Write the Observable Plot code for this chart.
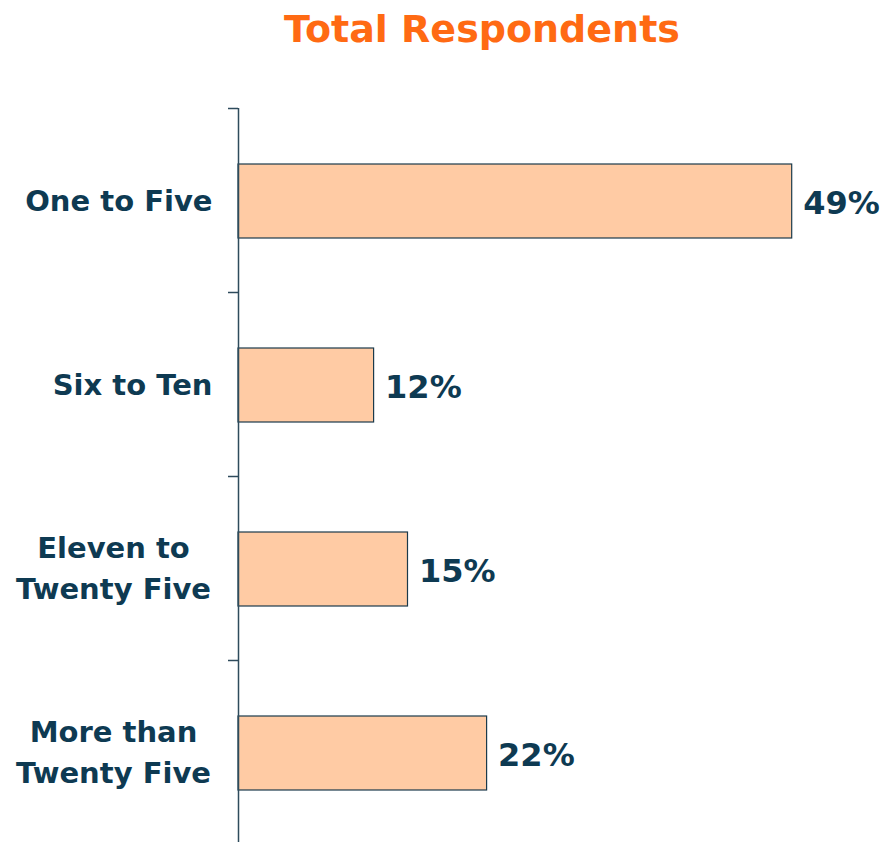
<!DOCTYPE html>
<html>
<head>
<meta charset="utf-8">
<script src="https://cdn.jsdelivr.net/npm/d3@7"></script>
<script src="https://cdn.jsdelivr.net/npm/@observablehq/plot@0.6"></script>
<style>
  html, body { margin: 0; padding: 0; overflow: hidden; background: #fff; }
  #title {
    height: 80px; box-sizing: border-box; padding-top: 10px; padding-left: 76px;
    text-align: center; font-family: "DejaVu Sans", sans-serif; font-weight: bold;
    font-size: 38px; line-height: 38px; color: #FF6A13;
  }
</style>
</head>
<body>
<div id="title">Total Respondents</div>
<div id="chart"></div>
<script>
const categories = ["One to Five", "Six to Ten", "Eleven to\nTwenty Five", "More than\nTwenty Five"];
const values = [49, 12, 15, 22];

const data = categories.map((c, i) => ({cat: c, value: values[i]}));
const ink = "#0E3A52";
const axisColor = "#2E4B5C";

const boundaryTicks = (index, scales) => {
  const y = scales.y;
  const step = y(categories[1]) - y(categories[0]);
  const outer = 0.3 * step;
  const g = d3.create("svg:g").attr("stroke", axisColor).attr("stroke-width", 1.5);
  categories.forEach(c => {
    const yy = Math.round(y(c) - outer) + 0.5;
    g.append("line").attr("x1", 228).attr("x2", 238).attr("y1", yy).attr("y2", yy);
  });
  return g.node();
};

const chart = Plot.plot({
  width: 888,
  height: 764,
  marginTop: 28,
  marginBottom: 0,
  marginLeft: 238,
  marginRight: 85,
  style: {fontFamily: "DejaVu Sans, sans-serif", background: "transparent"},
  x: {domain: [0, 50], axis: null},
  y: {domain: categories, axis: null, paddingInner: 0.6, paddingOuter: 0.3},
  marks: [
    Plot.barX(data, {x: "value", y: "cat", fill: "#FFCBA4", stroke: "#1B3A4B", strokeWidth: 1.2, dy: 1}),
    Plot.ruleX([0], {stroke: axisColor, strokeWidth: 1.5}),
    boundaryTicks,
    Plot.text(data, {x: "value", y: "cat", text: d => d.value + "%", dx: 11, dy: 3, textAnchor: "start",
      fontSize: 32, fontWeight: "bold", fill: ink}),
    Plot.text(data.filter(d => !d.cat.includes("\n")), {y: "cat", frameAnchor: "left", text: "cat",
      dx: -26, dy: 1.5, textAnchor: "end", fontSize: 29, fontWeight: "bold", fill: ink}),
    Plot.text(data.filter(d => d.cat.includes("\n")), {y: "cat", frameAnchor: "left", text: "cat",
      dx: -125, dy: -3, textAnchor: "middle", lineHeight: 1.4, fontSize: 29, fontWeight: "bold", fill: ink})
  ]
});
document.getElementById("chart").appendChild(chart);
</script>
</body>
</html>
